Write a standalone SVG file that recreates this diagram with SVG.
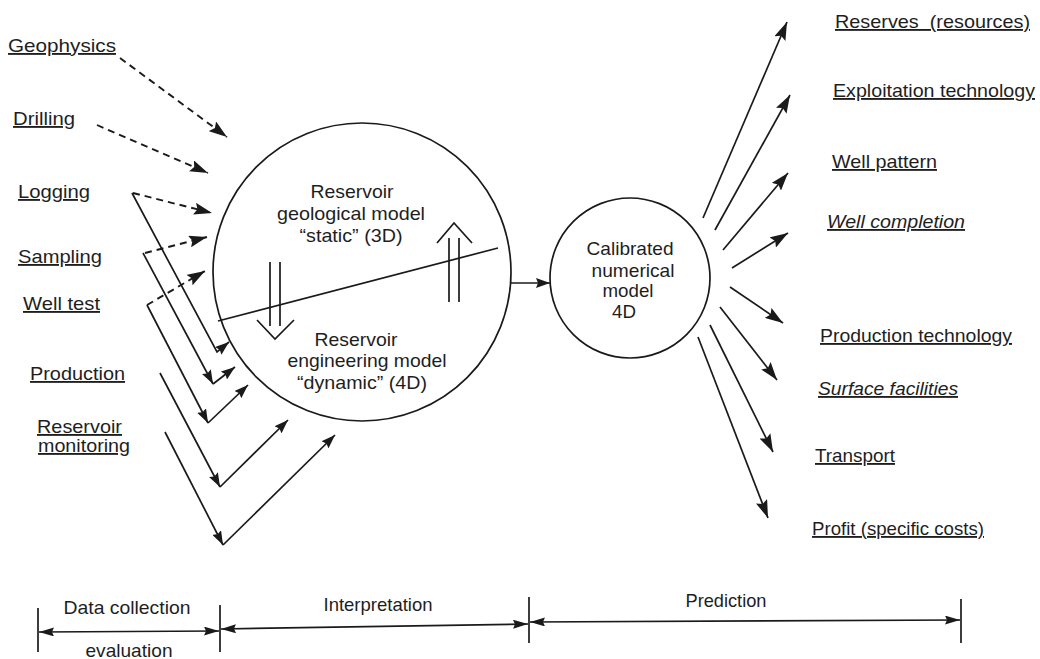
<svg xmlns="http://www.w3.org/2000/svg" width="1040" height="659" viewBox="0 0 1040 659">
<defs>
<style>
text{font-family:"Liberation Sans",Arial,sans-serif;fill:#1e1e1e}
.lbl{font-size:18.5px;text-decoration:underline}
.it{font-style:italic}
.in{font-size:18.5px;text-anchor:middle}
.tl{font-size:19px;text-anchor:middle}
.ln{stroke:#1a1a1a;stroke-width:1.7;fill:none}
.ds{stroke:#1a1a1a;stroke-width:1.9;fill:none;stroke-dasharray:7 5}
.ah{marker-end:url(#ah)}
.as{marker-end:url(#as)}
</style>
<marker id="ah" markerUnits="userSpaceOnUse" markerWidth="18" markerHeight="12" viewBox="0 0 18 12" refX="18" refY="6" orient="auto"><path d="M0,0 L18,6 L0,12 L3,6 z" fill="#1a1a1a"/></marker>
<marker id="as" markerUnits="userSpaceOnUse" markerWidth="14" markerHeight="10" viewBox="0 0 14 10" refX="14" refY="5" orient="auto"><path d="M0,0 L14,5 L0,10 L2,5 z" fill="#1a1a1a"/></marker>
<marker id="tb" markerUnits="userSpaceOnUse" markerWidth="15" markerHeight="9" viewBox="0 0 15 9" refX="15" refY="4.5" orient="auto-start-reverse"><path d="M0,0 L15,4.5 L0,9 L2,4.5 z" fill="#1a1a1a"/></marker>
</defs>

<g id="geophysics"><text class="lbl" x="8" y="52" textLength="108" lengthAdjust="spacingAndGlyphs">Geophysics</text></g>
<g id="drilling"><text class="lbl" x="13" y="125" textLength="62" lengthAdjust="spacingAndGlyphs">Drilling</text></g>
<g id="logging"><text class="lbl" x="18" y="198" textLength="72" lengthAdjust="spacingAndGlyphs">Logging</text></g>
<g id="sampling"><text class="lbl" x="18" y="263" textLength="84" lengthAdjust="spacingAndGlyphs">Sampling</text></g>
<g id="welltest"><text class="lbl" x="23" y="310" textLength="77" lengthAdjust="spacingAndGlyphs">Well test</text></g>
<g id="production"><text class="lbl" x="30" y="380" textLength="95" lengthAdjust="spacingAndGlyphs">Production</text></g>
<g id="monitoring"><text class="lbl" x="37" y="433" textLength="85" lengthAdjust="spacingAndGlyphs">Reservoir</text><text class="lbl" x="38" y="452" textLength="92" lengthAdjust="spacingAndGlyphs">monitoring</text></g>

<g id="reservoir-model">
<circle class="ln" cx="362" cy="272" r="149"/>
<line class="ln" x1="218" y1="321" x2="498" y2="248"/>
<path class="ln" d="M270,262 V326 M280,262 V326 M257,320 L275,339 L294,320"/>
<path class="ln" d="M449,302 V238 M459,302 V238 M437,243 L454,223 L472,243"/>
<text class="in" x="352" y="198" textLength="83" lengthAdjust="spacingAndGlyphs">Reservoir</text>
<text class="in" x="351" y="220" textLength="148" lengthAdjust="spacingAndGlyphs">geological model</text>
<text class="in" x="351" y="242" textLength="103" lengthAdjust="spacingAndGlyphs">“static” (3D)</text>
<text class="in" x="356" y="346" textLength="83" lengthAdjust="spacingAndGlyphs">Reservoir</text>
<text class="in" x="367" y="367" textLength="159" lengthAdjust="spacingAndGlyphs">engineering model</text>
<text class="in" x="362" y="389" textLength="130" lengthAdjust="spacingAndGlyphs">“dynamic” (4D)</text>
</g>

<g id="numerical-model">
<circle class="ln" cx="630" cy="278" r="80"/>
<text class="in" x="630" y="255" textLength="87" lengthAdjust="spacingAndGlyphs">Calibrated</text>
<text class="in" x="633" y="277" textLength="83" lengthAdjust="spacingAndGlyphs">numerical</text>
<text class="in" x="628" y="297" textLength="51" lengthAdjust="spacingAndGlyphs">model</text>
<text class="in" x="624" y="318" textLength="24" lengthAdjust="spacingAndGlyphs">4D</text>
</g>

<g id="reserves"><text class="lbl" x="835" y="28" textLength="195" lengthAdjust="spacingAndGlyphs" xml:space="preserve">Reserves  (resources)</text></g>
<g id="exploitation"><text class="lbl" x="833" y="97" textLength="202" lengthAdjust="spacingAndGlyphs">Exploitation technology</text></g>
<g id="wellpattern"><text class="lbl" x="832" y="168" textLength="105" lengthAdjust="spacingAndGlyphs">Well pattern</text></g>
<g id="wellcompletion"><text class="lbl it" x="827" y="228" textLength="138" lengthAdjust="spacingAndGlyphs">Well completion</text></g>
<g id="prodtech"><text class="lbl" x="820" y="342" textLength="192" lengthAdjust="spacingAndGlyphs">Production technology</text></g>
<g id="surface"><text class="lbl it" x="818" y="395" textLength="140" lengthAdjust="spacingAndGlyphs">Surface facilities</text></g>
<g id="transport"><text class="lbl" x="815" y="462" textLength="80" lengthAdjust="spacingAndGlyphs">Transport</text></g>
<g id="profit"><text class="lbl" x="812" y="535" textLength="172" lengthAdjust="spacingAndGlyphs">Profit (specific costs)</text></g>

<g id="connectors">
<line class="ds ah" x1="120" y1="58" x2="227" y2="137"/>
<line class="ds ah" x1="97" y1="125" x2="208" y2="173"/>
<line class="ds ah" x1="133" y1="193" x2="212" y2="213"/>
<line class="ds ah" x1="145" y1="253" x2="207" y2="237"/>
<line class="ds ah" x1="147" y1="305" x2="205" y2="271"/>

<polyline class="ln as" points="132,193 217,352 229,342"/>
<line class="ln as" x1="143" y1="253" x2="213" y2="384"/>
<line class="ln as" x1="213" y1="384" x2="235" y2="367"/>
<line class="ln as" x1="147" y1="305" x2="208" y2="423"/>
<line class="ln as" x1="208" y1="423" x2="248" y2="385"/>
<line class="ln as" x1="160" y1="373" x2="220" y2="487"/>
<line class="ln as" x1="220" y1="487" x2="288" y2="420"/>
<line class="ln as" x1="165" y1="432" x2="223" y2="545"/>
<line class="ln as" x1="223" y1="545" x2="335" y2="435"/>

<line class="ln as" x1="511" y1="283" x2="550" y2="283"/>

<line class="ln ah" x1="703" y1="218" x2="787" y2="22"/>
<line class="ln ah" x1="715" y1="230" x2="790" y2="95"/>
<line class="ln ah" x1="723" y1="250" x2="788" y2="173"/>
<line class="ln ah" x1="732" y1="268" x2="788" y2="233"/>
<line class="ln ah" x1="730" y1="287" x2="783" y2="323"/>
<line class="ln ah" x1="720" y1="307" x2="777" y2="380"/>
<line class="ln ah" x1="710" y1="325" x2="773" y2="452"/>
<line class="ln ah" x1="698" y1="337" x2="768" y2="518"/>
</g>

<g id="timeline">
<line class="ln" x1="38" y1="608" x2="38" y2="652"/>
<line class="ln" x1="220" y1="605" x2="220" y2="652"/>
<line class="ln" x1="529" y1="597" x2="529" y2="643"/>
<line class="ln" x1="961" y1="599" x2="961" y2="643"/>
<line class="ln" x1="39" y1="632" x2="219" y2="631" marker-start="url(#tb)" marker-end="url(#tb)"/>
<line class="ln" x1="221" y1="629" x2="528" y2="624" marker-start="url(#tb)" marker-end="url(#tb)"/>
<line class="ln" x1="530" y1="622" x2="960" y2="620" marker-start="url(#tb)" marker-end="url(#tb)"/>
<text class="tl" x="127" y="614" textLength="127" lengthAdjust="spacingAndGlyphs">Data collection</text>
<text class="tl" x="129" y="657" textLength="87" lengthAdjust="spacingAndGlyphs">evaluation</text>
<text class="tl" x="378" y="611" textLength="109" lengthAdjust="spacingAndGlyphs">Interpretation</text>
<text class="tl" x="726" y="607" textLength="81" lengthAdjust="spacingAndGlyphs">Prediction</text>
</g>
</svg>
